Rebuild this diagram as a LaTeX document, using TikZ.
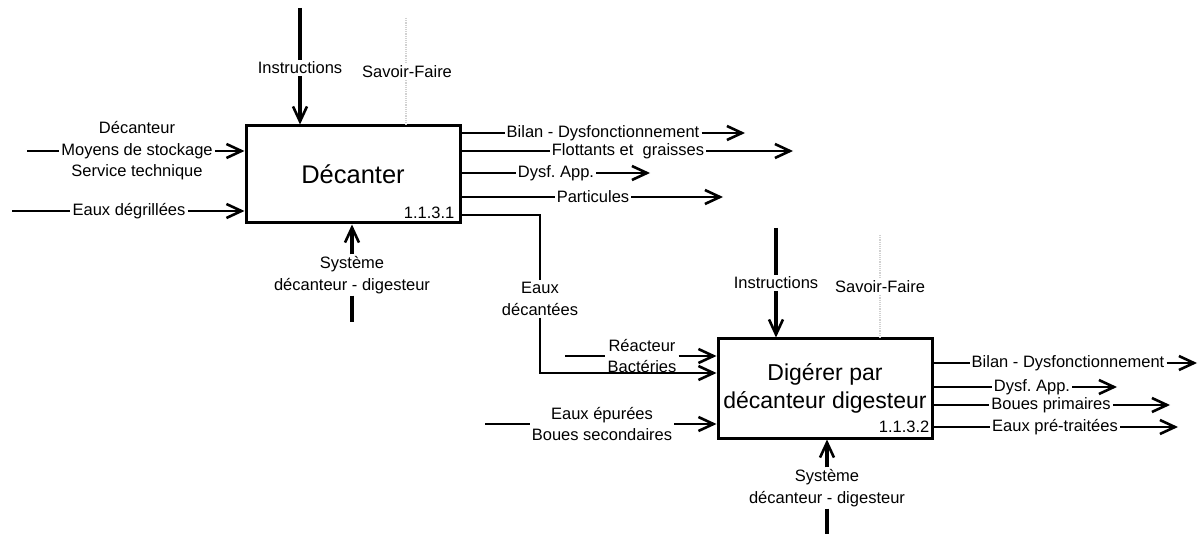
\documentclass[tikz,border=0pt]{standalone}
\usepackage{fontspec}
\setmainfont{Liberation Sans}
\usepackage{tikz}
\usetikzlibrary{arrows.meta,positioning,calc}
\newcommand{\lblfont}{\fontsize{16.5}{21.5}\selectfont}
\frenchspacing

\begin{document}
\begin{tikzpicture}[
  x=1pt,y=-1pt,
  font=\lblfont,
  act/.style={draw,line width=3pt,inner sep=0pt,align=center},
  lbl/.style={align=center,inner sep=2pt},
  num/.style={anchor=south east,inner sep=0pt},
  flow/.style={line width=2.2pt},
  ctrl/.style={line width=3.2pt},
  faint/.style={draw=black!18,densely dotted,line width=1.2pt},
  arr/.style={-{Straight Barb[length=15pt,width=14pt,line width=2.6pt]}}
]
\useasboundingbox (0,0) rectangle (1199,534);

% ---- activity 1: Decanter
\node[act,minimum width=214pt,minimum height=97pt,font=\fontsize{25.5}{28}\selectfont]
  (d1) at (353,174.5) {Décanter};
\node[num] (n1) at ($(d1.south east)+(-7,-6)$) {1.1.3.1};

\node[lbl] (ins1) at (300,68) {Instructions};
\coordinate (ins1top) at (300,8);
\draw[ctrl] (ins1top) -- (ins1.north);
\draw[ctrl,arr] (ins1.south) -- (ins1.south |- d1.north);

\node[lbl] (sf1) at (407,72) {Savoir-Faire};
\coordinate (sf1top) at (406,18);
\draw[faint] (sf1top) -- (sf1.north -| sf1top);
\draw[faint] (sf1.south -| sf1top) -- (sf1top |- d1.north);

\node[lbl] (res1) at (137,151) {Décanteur\\Moyens de stockage\\Service technique};
\coordinate (res1in) at (27,151);
\draw[flow] (res1in) -- (res1.west);
\draw[flow,arr] (res1.east) -- (d1.west |- res1);

\node[lbl] (edg) at (129,211) {Eaux dégrillées};
\coordinate (edgin) at (12,211);
\draw[flow] (edgin) -- (edg.west);
\draw[flow,arr] (edg.east) -- (d1.west |- edg);

\node[lbl] (mec1) at (352,275) {Système\\décanteur - digesteur};
\coordinate (mec1bot) at (352,322);
\draw[ctrl,arr] (mec1.north) -- (mec1.north |- d1.south);
\draw[ctrl] (mec1.south) -- (mec1bot);

% ---- outputs of activity 1
\node[lbl] (bil1) at (603,133) {Bilan - Dysfonctionnement};
\coordinate (bil1e) at (745,133);
\draw[flow] (d1.east |- bil1) -- (bil1.west);
\draw[flow,arr] (bil1.east) -- (bil1e);

\node[lbl] (flo1) at (628,151) {Flottants et\ \ graisses};
\coordinate (flo1e) at (793,151);
\draw[flow] (d1.east |- flo1) -- (flo1.west);
\draw[flow,arr] (flo1.east) -- (flo1e);

\node[lbl] (dys1) at (556,173) {Dysf. App.};
\coordinate (dys1e) at (650,173);
\draw[flow] (d1.east |- dys1) -- (dys1.west);
\draw[flow,arr] (dys1.east) -- (dys1e);

\node[lbl] (par1) at (593,197) {Particules};
\coordinate (par1e) at (723,197);
\draw[flow] (d1.east |- par1) -- (par1.west);
\draw[flow,arr] (par1.east) -- (par1e);

% ---- activity 2: Digerer
\node[act,minimum width=214pt,minimum height=99pt,font=\fontsize{23}{28}\selectfont]
  (d2) at (825,388.5) {Digérer par\\décanteur digesteur};
\node[num] (n2) at ($(d2.south east)+(-4,-7)$) {1.1.3.2};

\node[lbl] (edec) at (540,299) {Eaux\\décantées};
\draw[flow] (d1.east |- 0,215) -| (edec.north);
\draw[flow,arr] (edec.south) |- (d2.west |- 0,373);

\node[lbl] (ins2) at (776,283) {Instructions};
\coordinate (ins2top) at (776,228);
\draw[ctrl] (ins2top) -- (ins2.north);
\draw[ctrl,arr] (ins2.south) -- (ins2.south |- d2.north);

\node[lbl] (sf2) at (880,287) {Savoir-Faire};
\coordinate (sf2top) at (880,235);
\draw[faint] (sf2top) -- (sf2.north);
\draw[faint] (sf2.south) -- (sf2top |- d2.north);

\node[lbl] (reac) at (642,356) {Réacteur\\Bactéries};
\coordinate (reacin) at (565,356);
\draw[flow] (reacin) -- (reac.west);
\draw[flow,arr] (reac.east) -- (d2.west |- reac);

\node[lbl] (epu) at (602,424) {Eaux épurées\\Boues secondaires};
\coordinate (epuin) at (485,424);
\draw[flow] (epuin) -- (epu.west);
\draw[flow,arr] (epu.east) -- (d2.west |- epu);

\node[lbl] (mec2) at (827,488) {Système\\décanteur - digesteur};
\coordinate (mec2bot) at (827,534);
\draw[ctrl,arr] (mec2.north) -- (mec2.north |- d2.south);
\draw[ctrl] (mec2.south) -- (mec2bot);

% ---- outputs of activity 2
\node[lbl] (bil2) at (1068,363) {Bilan - Dysfonctionnement};
\coordinate (bil2e) at (1197,363);
\draw[flow] (d2.east |- bil2) -- (bil2.west);
\draw[flow,arr] (bil2.east) -- (bil2e);

\node[lbl] (dys2) at (1032,387) {Dysf. App.};
\coordinate (dys2e) at (1117,387);
\draw[flow] (d2.east |- dys2) -- (dys2.west);
\draw[flow,arr] (dys2.east) -- (dys2e);

\node[lbl] (bou2) at (1051,405) {Boues primaires};
\coordinate (bou2e) at (1170,405);
\draw[flow] (d2.east |- bou2) -- (bou2.west);
\draw[flow,arr] (bou2.east) -- (bou2e);

\node[lbl] (ept2) at (1055,427) {Eaux pré-traitées};
\coordinate (ept2e) at (1178,427);
\draw[flow] (d2.east |- ept2) -- (ept2.west);
\draw[flow,arr] (ept2.east) -- (ept2e);
\end{tikzpicture}
\end{document}
